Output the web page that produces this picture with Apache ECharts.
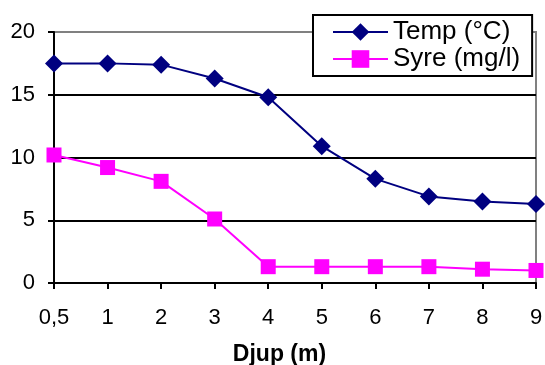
<!DOCTYPE html>
<html>
<head>
<meta charset="utf-8">
<script src="https://cdn.jsdelivr.net/npm/echarts@6/dist/echarts.min.js"></script>
<style>
  html, body { margin: 0; padding: 0; background: #fff; }
  #chart { width: 545px; height: 365px; }
</style>
</head>
<body>
<div id="chart"></div>
<script>
// Depth categories (m)
const depths = ['0,5', '1', '2', '3', '4', '5', '6', '7', '8', '9'];
// Water temperature (°C) per depth
const temp = [17.5, 17.5, 17.4, 16.3, 14.8, 10.9, 8.3, 6.9, 6.5, 6.3];
// Dissolved oxygen (mg/l) per depth
const syre = [10.2, 9.2, 8.1, 5.1, 1.3, 1.3, 1.3, 1.3, 1.1, 1.0];
// Y axis ticks
const yTicks = [0, 5, 10, 15, 20];

const font = 'Liberation Sans, Arial, sans-serif';
const chart = echarts.init(document.getElementById('chart'), null, { renderer: 'canvas' });

chart.setOption({
  animation: false,
  backgroundColor: '#ffffff',
  grid: {
    left: 54, right: 9, top: 32, bottom: 82,
    outerBoundsMode: 'none',
    containLabel: false,
    show: true, borderColor: '#808080', borderWidth: 2, backgroundColor: 'transparent'
  },
  legend: {
    orient: 'vertical',
    left: 313, top: 15,
    padding: [4, 12, 4, 19],
    itemWidth: 55, itemHeight: 22, itemGap: 1,
    backgroundColor: '#ffffff',
    borderColor: '#000000', borderWidth: 2,
    textStyle: { fontFamily: font, fontSize: 26, lineHeight: 19, color: '#000', padding: [0, 0, 0, 0] },
    data: ['Temp (°C)', 'Syre (mg/l)']
  },
  xAxis: {
    type: 'category',
    data: depths,
    boundaryGap: false,
    name: 'Djup (m)',
    nameLocation: 'middle',
    nameGap: 60,
    nameTextStyle: { fontFamily: font, fontSize: 23, fontWeight: 'bold', color: '#000', padding: [0, 31, 0, 0] },
    axisLine: { lineStyle: { color: '#000', width: 2 } },
    axisTick: { show: true, alignWithLabel: true, length: 6, lineStyle: { color: '#000', width: 2 } },
    axisLabel: { fontFamily: font, fontSize: 22, color: '#000', margin: 24 },
    splitLine: { show: false }
  },
  yAxis: {
    type: 'value',
    min: yTicks[0], max: yTicks[yTicks.length - 1], interval: 5,
    axisLine: { show: true, lineStyle: { color: '#000', width: 2 } },
    axisTick: { show: true, length: 6, lineStyle: { color: '#000', width: 2 } },
    axisLabel: { fontFamily: font, fontSize: 22, color: '#000', margin: 19 },
    splitLine: { show: true, showMaxLine: false, lineStyle: { color: '#000', width: 2 } }
  },
  series: [
    {
      name: 'Temp (°C)',
      type: 'line',
      data: temp,
      symbol: 'diamond',
      symbolSize: 18,
      color: '#000080',
      lineStyle: { color: '#000080', width: 2 },
      itemStyle: { color: '#000080' },
      z: 3
    },
    {
      name: 'Syre (mg/l)',
      type: 'line',
      data: syre,
      symbol: 'rect',
      symbolSize: 15,
      color: '#ff00ff',
      lineStyle: { color: '#ff00ff', width: 2 },
      itemStyle: { color: '#ff00ff' },
      z: 2
    }
  ]
});
</script>
</body>
</html>
